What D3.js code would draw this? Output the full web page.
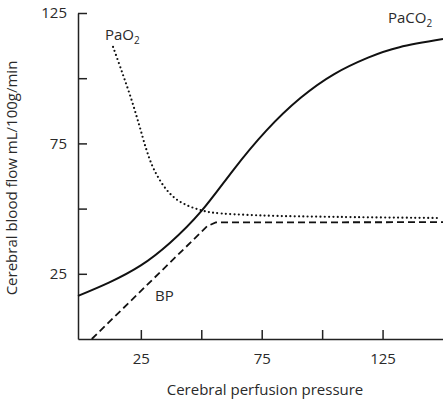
<!DOCTYPE html>
<html>
<head>
<meta charset="utf-8">
<script src="https://cdn.jsdelivr.net/npm/d3@7"></script>
<style>
body { margin: 0; background: #fff; }
text { font-family: "Open Sans", Lato, sans-serif; fill: #2a2a2a; }
</style>
</head>
<body>
<div id="chart-area"></div>
<script>
// values
var paco2X = [-1, 12, 25, 37, 50, 63, 77, 91, 105, 119, 132, 150];
var paco2Y = [16.5, 21.7, 28.2, 36.8, 49, 64.5, 80, 92.4, 101.6, 107.9, 111.9, 115];
var pao2X = [13.5, 17.2, 20.9, 24.2, 27.1, 29.6, 32.1, 35.4, 39.5, 44.5, 49.5, 54.4, 74.3, 107.4, 147.5];
var pao2Y = [112, 102.4, 92.4, 82.4, 73.2, 66.7, 62.1, 57.5, 53.7, 51.1, 49.5, 48.5, 47.4, 46.8, 46.4];
var bpX = [4.7, 52.5, 56, 150];
var bpY = [0, 43.3, 44.7, 44.8];
var xTicks = [25, 50, 75, 100, 125];
var xTickLabels = [25, 75, 125];
var yTicks = [25, 50, 75, 100, 125];
var yTickLabels = [25, 75, 125];

var margin = {left: 78, right: 0, top: 13, bottom: 61};
var width = 443 - margin.left - margin.right;
var height = 400 - margin.top - margin.bottom;

var svg = d3.select("#chart-area").append("svg")
    .attr("width", 443)
    .attr("height", 400);
var g = svg.append("g")
    .attr("transform", "translate(" + margin.left + "," + margin.top + ")");

var x = d3.scaleLinear().domain([-1, 150]).range([0, width]);
var y = d3.scaleLinear().domain([0, 125]).range([height, 0]);

var xAxis = d3.axisBottom(x)
    .tickValues(xTicks)
    .tickSizeInner(-9)
    .tickSizeOuter(0)
    .tickPadding(14)
    .tickFormat((d) => xTickLabels.indexOf(d) >= 0 ? d : "");
var yAxis = d3.axisLeft(y)
    .tickValues(yTicks)
    .tickSizeInner(-9)
    .tickSizeOuter(0)
    .tickPadding(11)
    .tickFormat((d) => yTickLabels.indexOf(d) >= 0 ? d : "");

g.append("g")
    .attr("class", "x-axis")
    .attr("transform", "translate(0," + height + ")")
    .call(xAxis);
g.append("g")
    .attr("class", "y-axis")
    .call(yAxis);

g.selectAll(".domain, .tick line")
    .attr("stroke", "#222")
    .attr("stroke-width", 1.5);
g.selectAll(".tick text")
    .attr("font-size", "15px")
    .attr("font-family", "'Open Sans', sans-serif")
    .attr("fill", "#2a2a2a");

// curves
var line = d3.line()
    .x((d) => x(d[0]))
    .y((d) => y(d[1]));

g.append("path")
    .datum(d3.zip(paco2X, paco2Y))
    .attr("fill", "none")
    .attr("stroke", "#111")
    .attr("stroke-width", 2)
    .attr("d", line.curve(d3.curveNatural));

g.append("path")
    .datum(d3.zip(pao2X, pao2Y))
    .attr("fill", "none")
    .attr("stroke", "#111")
    .attr("stroke-width", 2.2)
    .attr("stroke-linecap", "round")
    .attr("stroke-dasharray", "0,4.3")
    .attr("d", line.curve(d3.curveCatmullRom));

g.append("path")
    .datum(d3.zip(bpX, bpY))
    .attr("fill", "none")
    .attr("stroke", "#111")
    .attr("stroke-width", 1.8)
    .attr("stroke-dasharray", "7,4")
    .attr("d", line.curve(d3.curveLinear));

// curve labels
var pao2Label = svg.append("text")
    .attr("x", 105)
    .attr("y", 40)
    .attr("font-size", "15px");
pao2Label.append("tspan").text("PaO");
pao2Label.append("tspan").attr("dy", 4).attr("font-size", "10px").text("2");

var paco2Label = svg.append("text")
    .attr("x", 388)
    .attr("y", 23)
    .attr("font-size", "15px");
paco2Label.append("tspan").text("PaCO");
paco2Label.append("tspan").attr("dy", 4).attr("font-size", "10px").text("2");

svg.append("text")
    .attr("x", 155)
    .attr("y", 301)
    .attr("font-size", "15px")
    .text("BP");

// axis titles
svg.append("text")
    .attr("x", 265)
    .attr("y", 395)
    .attr("font-size", "15px")
    .attr("text-anchor", "middle")
    .text("Cerebral perfusion pressure");
svg.append("text")
    .attr("transform", "translate(17," + 178 + ") rotate(-90)")
    .attr("font-size", "15px")
    .attr("text-anchor", "middle")
    .text("Cerebral blood flow mL/100g/min");
</script>
</body>
</html>
